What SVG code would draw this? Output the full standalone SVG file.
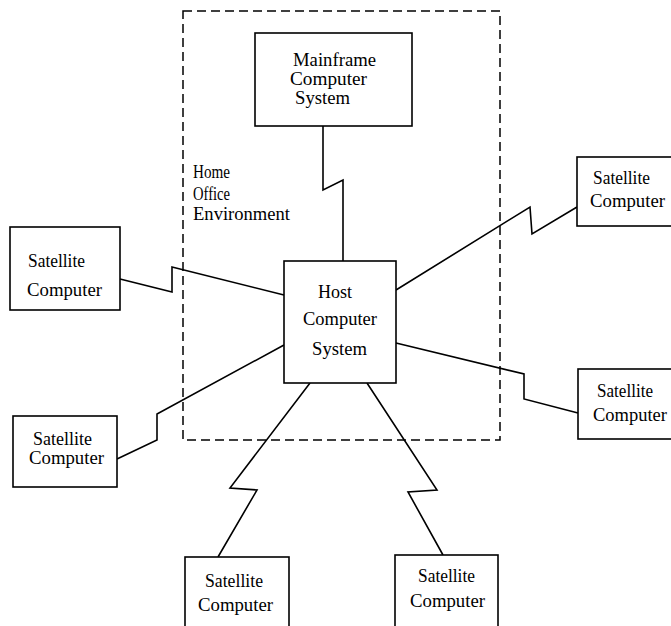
<svg xmlns="http://www.w3.org/2000/svg" width="671" height="626" viewBox="0 0 671 626">
<style>
.box{fill:#fff;stroke:#000;stroke-width:1.6}
.ln{fill:none;stroke:#000;stroke-width:1.6;stroke-linejoin:miter}
.dash{fill:none;stroke:#000;stroke-width:1.5;stroke-dasharray:9 5}
text{font-family:"Liberation Serif","Times New Roman",serif;font-size:18px;fill:#000}
</style>
<rect width="671" height="626" fill="#fff"/>
<g id="home-office">
<rect class="dash" x="183" y="11" width="317" height="429"/>
<text x="193" y="178" textLength="37" lengthAdjust="spacingAndGlyphs">Home</text>
<text x="193" y="200" textLength="37" lengthAdjust="spacingAndGlyphs">Office</text>
<text x="193" y="220" textLength="97" lengthAdjust="spacingAndGlyphs">Environment</text>
</g>
<g id="connectors">
<polyline class="ln" points="323,126 323,190 343,180 343,261"/>
<polyline class="ln" points="120,279 172,292 172,267 284,295"/>
<polyline class="ln" points="284,345 157,414 157,440 117,459"/>
<polyline class="ln" points="396,290 530,207 532,234 577,207"/>
<polyline class="ln" points="396,343 524,374 524,399 578,413"/>
<polyline class="ln" points="310,383 230,488 257,490 218,557"/>
<polyline class="ln" points="367,383 437,490 408,492 443,555"/>
</g>
<g id="mainframe">
<rect class="box" x="255" y="33" width="157" height="93"/>
<text x="293" y="66" textLength="83" lengthAdjust="spacingAndGlyphs">Mainframe</text>
<text x="290" y="85" textLength="77" lengthAdjust="spacingAndGlyphs">Computer</text>
<text x="295" y="104" textLength="55" lengthAdjust="spacingAndGlyphs">System</text>
</g>
<g id="host">
<rect class="box" x="284" y="261" width="112" height="122"/>
<text x="318" y="298" textLength="34" lengthAdjust="spacingAndGlyphs">Host</text>
<text x="303" y="325" textLength="74" lengthAdjust="spacingAndGlyphs">Computer</text>
<text x="312" y="355" textLength="55" lengthAdjust="spacingAndGlyphs">System</text>
</g>
<g id="sat-left-1">
<rect class="box" x="10" y="227" width="110" height="83"/>
<text x="28" y="267" textLength="57" lengthAdjust="spacingAndGlyphs">Satellite</text>
<text x="27" y="296" textLength="75" lengthAdjust="spacingAndGlyphs">Computer</text>
</g>
<g id="sat-left-2">
<rect class="box" x="13" y="416" width="104" height="71"/>
<text x="33" y="445" textLength="59" lengthAdjust="spacingAndGlyphs">Satellite</text>
<text x="29" y="464" textLength="75" lengthAdjust="spacingAndGlyphs">Computer</text>
</g>
<g id="sat-right-1">
<rect class="box" x="577" y="157" width="100" height="69"/>
<text x="593" y="184" textLength="57" lengthAdjust="spacingAndGlyphs">Satellite</text>
<text x="590" y="207" textLength="75" lengthAdjust="spacingAndGlyphs">Computer</text>
</g>
<g id="sat-right-2">
<rect class="box" x="578" y="369" width="100" height="70"/>
<text x="597" y="397" textLength="56" lengthAdjust="spacingAndGlyphs">Satellite</text>
<text x="593" y="421" textLength="74" lengthAdjust="spacingAndGlyphs">Computer</text>
</g>
<g id="sat-bottom-1">
<rect class="box" x="185" y="557" width="104" height="75"/>
<text x="205" y="587" textLength="58" lengthAdjust="spacingAndGlyphs">Satellite</text>
<text x="198" y="611" textLength="75" lengthAdjust="spacingAndGlyphs">Computer</text>
</g>
<g id="sat-bottom-2">
<rect class="box" x="395" y="555" width="103" height="77"/>
<text x="418" y="582" textLength="57" lengthAdjust="spacingAndGlyphs">Satellite</text>
<text x="410" y="607" textLength="75" lengthAdjust="spacingAndGlyphs">Computer</text>
</g>
</svg>
